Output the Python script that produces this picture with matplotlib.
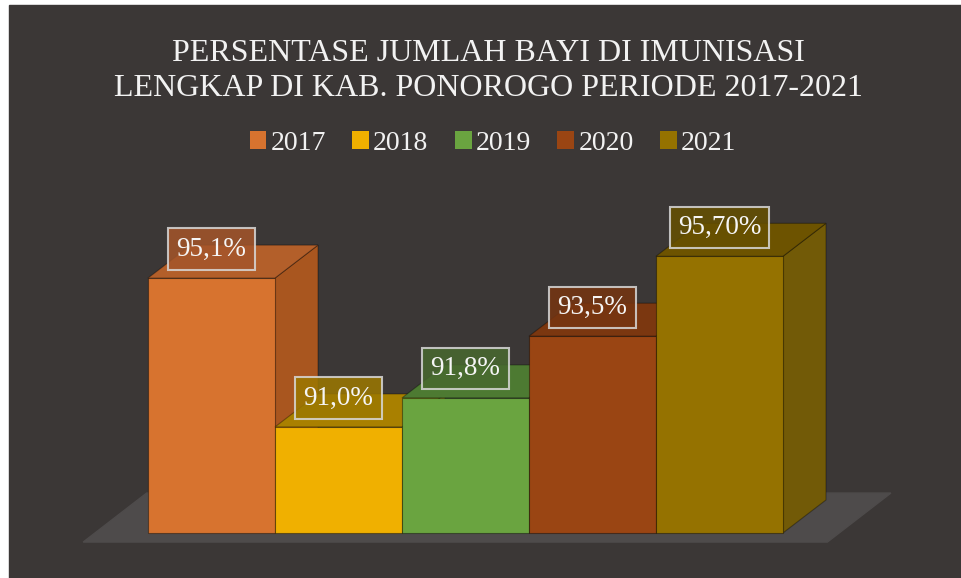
'''
Recreates the 3D-style bar chart of infant immunisation coverage in Ponorogo.
'''
import matplotlib.pyplot as plt
from matplotlib.patches import Patch, Polygon, Rectangle

years = ['2017', '2018', '2019', '2020', '2021']
values = [95.1, 91.0, 91.8, 93.5, 95.70]
value_labels = ['95,1%', '91,0%', '91,8%', '93,5%', '95,70%']

front_colors = ['#d7732f', '#f0b000', '#6aa440', '#9a4513', '#957200']
side_colors = ['#a9561f', '#b98700', '#507e30', '#74340e', '#725a07']
top_colors = ['#b35f2a', '#a98000', '#4d7a32', '#7b3710', '#6d5300']
box_colors = ['#a4552a', '#9c7800', '#48692f', '#773511', '#665000']

bg = '#3b3736'
base = 88.08          # value at the bar floor
dx, dy = 0.339, 0.909  # depth offset of the 3d effect (x units, % units)

fig = plt.figure(figsize=(9.61, 5.78), dpi=100, facecolor='white')
fig.patches.append(Rectangle((9 / 961, 0), 1 - 9 / 961, 1 - 5 / 578,
                             transform=fig.transFigure, color=bg, zorder=-1))
ax = fig.add_axes([0, 0, 1, 1])
ax.set_facecolor('none')
ax.set_xlim(-1.665, 5.902)
ax.set_ylim(86.84, 102.76)
ax.axis('off')

# floor slab
n = len(values)
fl_y = base - 0.25
fl_x0, fl_x1 = -0.5 - 0.51, n - 0.5 + 0.35
ax.add_patch(Polygon([(fl_x0, fl_y), (fl_x1, fl_y),
                      (fl_x1 + 0.5, fl_y + 1.35), (fl_x0 + 0.5, fl_y + 1.35)],
                     closed=True, color='#4e4b4b', zorder=1))

for i, v in enumerate(values):
    left, right = i - 0.5, i + 0.5
    z = 2 + i
    # right side face
    ax.add_patch(Polygon([(right, base), (right + dx, base + dy),
                          (right + dx, v + dy), (right, v)],
                         closed=True, facecolor=side_colors[i],
                         edgecolor='#00000055', lw=0.8, zorder=z))
    # top face
    ax.add_patch(Polygon([(left, v), (right, v), (right + dx, v + dy),
                          (left + dx, v + dy)],
                         closed=True, facecolor=top_colors[i],
                         edgecolor='#00000055', lw=0.8, zorder=z))
    # front face
    ax.bar(i, v - base, bottom=base, width=1.0, color=front_colors[i],
           edgecolor='#00000066', linewidth=0.8, zorder=z)

for i, v in enumerate(values):
    ax.text(i, v + 0.8, value_labels[i], ha='center', va='center',
            fontsize=19.5, family='Liberation Serif', color='#f5f5f5', zorder=20,
            bbox=dict(boxstyle='square,pad=0.3', facecolor=box_colors[i],
                      alpha=0.85, edgecolor='#d8d8d8', linewidth=1.5))

fig.text(0.508, 1 - 71 / 578,
         'PERSENTASE JUMLAH BAYI DI IMUNISASI\nLENGKAP DI KAB. PONOROGO PERIODE 2017-2021',
         ha='center', va='center', fontsize=23, family='Liberation Serif',
         color='#f2f2f2', linespacing=1.25)

handles = [Patch(facecolor=c) for c in front_colors]
leg = fig.legend(handles, years, loc='center', bbox_to_anchor=(0.513, 1 - 143 / 578),
                 ncol=5, frameon=False, handlelength=0.6, handleheight=0.6,
                 handletextpad=0.15, columnspacing=0.95,
                 prop={'family': 'Liberation Serif', 'size': 20})
for t in leg.get_texts():
    t.set_color('#f2f2f2')

fig.savefig('out.png', dpi=100, facecolor=fig.get_facecolor())
